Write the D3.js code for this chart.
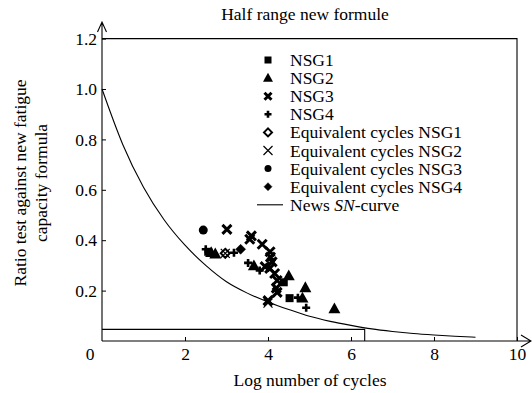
<!DOCTYPE html>
<html>
<head>
<meta charset="utf-8">
<script src="https://cdn.jsdelivr.net/npm/d3@7/dist/d3.min.js"></script>
<style>
  body { margin: 0; background: #fff; }
  svg text { font-family: "Liberation Serif", "DejaVu Serif", serif; }
</style>
</head>
<body>
<svg id="chart" width="532" height="393"></svg>
<script>
// data (log N, ratio)
const nsg1 = [[2.56, 0.354], [4.38, 0.233], [4.52, 0.170]];
const nsg2 = [[2.63, 0.350], [2.73, 0.345], [3.66, 0.298], [4.50, 0.258], [4.90, 0.211], [4.83, 0.170], [5.60, 0.127]];
const nsg3 = [[3.01, 0.443], [3.60, 0.417], [3.56, 0.404], [3.86, 0.384], [4.05, 0.354], [4.06, 0.333],
              [4.10, 0.314], [3.93, 0.295], [4.04, 0.288], [4.16, 0.268], [4.22, 0.240], [4.20, 0.210],
              [4.22, 0.193], [4.00, 0.160]];
const nsg4 = [[2.50, 0.364], [3.18, 0.350], [3.52, 0.310], [3.80, 0.280], [4.72, 0.172], [4.92, 0.132]];
const eqNsg1 = [[2.97, 0.348]];
const eqNsg2 = [[2.97, 0.348], [4.00, 0.150]];
const eqNsg3 = [[2.44, 0.440]];
const eqNsg4 = [[3.34, 0.364]];

// News SN-curve
const snX = [0, 0.5, 1, 1.5, 2, 2.5, 3, 3.5, 4, 4.5, 5, 5.5, 6, 6.5, 7, 7.5, 8, 8.5, 9];
const snY = [1.0, 0.78, 0.61, 0.48, 0.38, 0.30, 0.235, 0.19, 0.155, 0.125, 0.098, 0.078, 0.062, 0.048, 0.038, 0.03, 0.024, 0.019, 0.015];
const cutX = 6.33, cutY = 0.046;

const xTicks = [2, 4, 6, 8, 10];
const yTicks = [0.2, 0.4, 0.6, 0.8, 1.0, 1.2];
const legendLabels = ['NSG1', 'NSG2', 'NSG3', 'NSG4', 'Equivalent cycles NSG1', 'Equivalent cycles NSG2',
                      'Equivalent cycles NSG3', 'Equivalent cycles NSG4'];

const FONT = 'Liberation Serif, DejaVu Serif, serif';
const FS = 17.5;
const svg = d3.select('#chart');
const x = d3.scaleLinear().domain([0, 10]).range([102, 517]);
const y = d3.scaleLinear().domain([0, 1.2]).range([341, 38.6]);

// marker drawing
function marker(g, type, s) {
  if (type == 'square') {
    g.append('rect').attr('x', -s / 2).attr('y', -s / 2).attr('width', s).attr('height', s).attr('fill', '#000');
  } else if (type == 'triangle') {
    let h = s * 0.9;
    g.append('path').attr('d', `M0,${-h * 0.6}L${s / 2},${h * 0.4}L${-s / 2},${h * 0.4}Z`).attr('fill', '#000');
  } else if (type == 'xbold' || type == 'xthin') {
    let r = s / 2;
    g.append('path').attr('d', `M${-r},${-r}L${r},${r}M${-r},${r}L${r},${-r}`)
      .attr('stroke', '#000').attr('stroke-width', type == 'xbold' ? 3 : 1.2).attr('fill', 'none');
  } else if (type == 'plus') {
    let r = s / 2;
    g.append('path').attr('d', `M${-r},0L${r},0M0,${-r}L0,${r}`)
      .attr('stroke', '#000').attr('stroke-width', 2.6).attr('fill', 'none');
  } else if (type == 'diamondOpen' || type == 'diamond') {
    let r = s / 2;
    g.append('path').attr('d', `M0,${-r}L${r},0L0,${r}L${-r},0Z`)
      .attr('fill', type == 'diamond' ? '#000' : '#fff')
      .attr('stroke', '#000').attr('stroke-width', type == 'diamond' ? 0.5 : 2);
  } else if (type == 'circle') {
    g.append('circle').attr('r', s / 2).attr('fill', '#000');
  }
}

// frame + axes
const axisG = svg.append('g').attr('stroke', '#000').attr('stroke-width', 1.1).attr('fill', 'none');
axisG.append('path').attr('d', `M${x(0)},${y(0)}V22M${x(0) - 4.5},32L${x(0)},22L${x(0) + 4.5},32`);
axisG.append('path').attr('d', `M${x(0)},${y(0)}H531M521,${y(0) - 6}L531,${y(0)}L521,${y(0) + 6}`);
axisG.append('path').attr('d', `M${x(0)},${y(1.2)}H${x(10)}V${y(0)}`);

const xAxis = d3.axisBottom(x).tickValues(xTicks).tickSizeInner(-4).tickSizeOuter(0).tickPadding(7);
svg.append('g').attr('transform', `translate(0,${y(0)})`).call(xAxis)
  .attr('font-family', FONT).attr('font-size', FS)
  .call(g => g.select('.domain').remove())
  .call(g => g.selectAll('text').attr('fill', '#000'))
  .call(g => g.selectAll('line').attr('stroke', '#000'));

svg.append('text').attr('x', x(0) - 12).attr('y', y(0) + 19).attr('text-anchor', 'middle')
  .attr('font-size', FS).text('0');

const yAxis = d3.axisLeft(y).tickValues(yTicks).tickSizeInner(-4).tickSizeOuter(0).tickPadding(5)
  .tickFormat(d3.format('.1f'));
svg.append('g').attr('transform', `translate(${x(0)},0)`).call(yAxis)
  .attr('font-family', FONT).attr('font-size', FS)
  .call(g => g.select('.domain').remove())
  .call(g => g.selectAll('text').attr('fill', '#000'))
  .call(g => g.selectAll('line').attr('stroke', '#000'));

// titles
svg.append('text').attr('x', 305).attr('y', 20).attr('text-anchor', 'middle').attr('font-size', FS)
  .text('Half range new formule');
svg.append('text').attr('x', 310).attr('y', 386).attr('text-anchor', 'middle').attr('font-size', FS)
  .text('Log number of cycles');
const yt = svg.append('text').attr('transform', 'translate(0,183) rotate(-90)').attr('text-anchor', 'middle')
  .attr('font-size', FS);
yt.append('tspan').attr('x', 0).attr('y', 26).text('Ratio test against new fatigue');
yt.append('tspan').attr('x', 0).attr('y', 47).text('capacity formula');

// SN-curve and cut-off
const line = d3.line().x((d, i) => x(snX[i])).y(d => y(d)).curve(d3.curveMonotoneX);
svg.append('path').datum(snY).attr('d', line).attr('fill', 'none').attr('stroke', '#000').attr('stroke-width', 1.1);
svg.append('path').attr('d', `M${x(0)},${y(cutY)}H${x(cutX)}V${y(0)}`)
  .attr('fill', 'none').attr('stroke', '#000').attr('stroke-width', 1.1);

// points
const series = [
  {data: nsg1, type: 'square', s: 8},
  {data: nsg2, type: 'triangle', s: 12},
  {data: nsg3, type: 'xbold', s: 9},
  {data: nsg4, type: 'plus', s: 8},
  {data: eqNsg1, type: 'diamondOpen', s: 9},
  {data: eqNsg2, type: 'xthin', s: 9},
  {data: eqNsg3, type: 'circle', s: 9},
  {data: eqNsg4, type: 'diamond', s: 10}
];
series.forEach(sr => {
  svg.append('g').selectAll('g').data(sr.data).join('g')
    .attr('transform', d => `translate(${x(d[0])},${y(d[1])})`)
    .each(function() { marker(d3.select(this), sr.type, sr.s); });
});

// legend
const legendSizes = [7, 10, 7, 7, 8, 9, 7, 8];
const lg = svg.append('g').attr('transform', 'translate(268,60)');
legendLabels.forEach((l, i) => {
  const row = lg.append('g').attr('transform', `translate(0,${i * 18.1})`);
  marker(row, series[i].type, legendSizes[i]);
  row.append('text').attr('x', 22).attr('y', 6).attr('font-size', FS).text(l);
});
const last = lg.append('g').attr('transform', `translate(0,${8 * 18.1})`);
last.append('line').attr('x1', -11).attr('x2', 15).attr('stroke', '#000').attr('stroke-width', 1.1);
const lt = last.append('text').attr('x', 22).attr('y', 6).attr('font-size', FS);
lt.append('tspan').text('News ');
lt.append('tspan').attr('font-style', 'italic').text('SN');
lt.append('tspan').text('-curve');
</script>
</body>
</html>
